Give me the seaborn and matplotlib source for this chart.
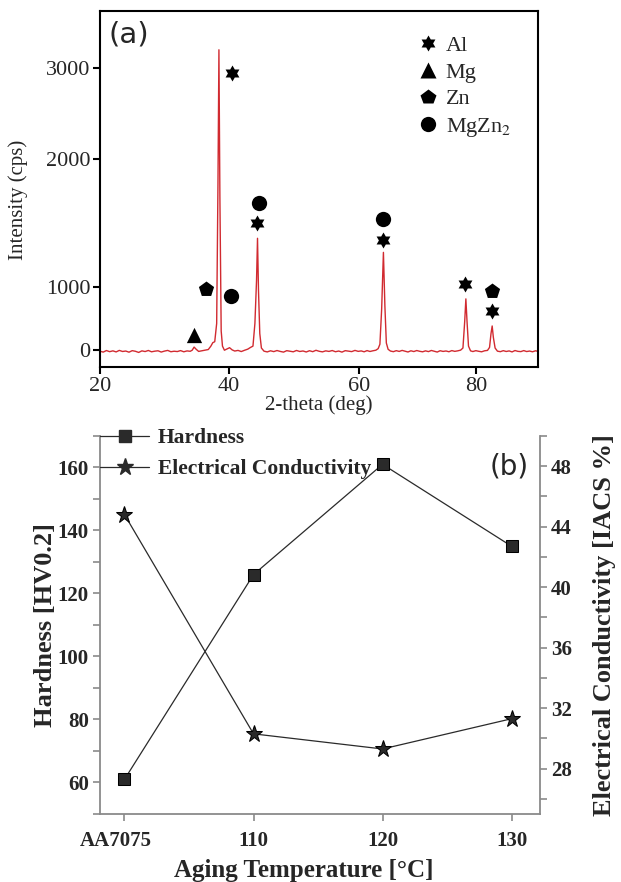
import numpy as np
import pandas as pd
import seaborn as sns
import matplotlib.pyplot as plt
from matplotlib.lines import Line2D
from matplotlib.ticker import MultipleLocator
from matplotlib.transforms import ScaledTranslation

# ---------------- panel (a): XRD pattern ----------------
two_theta = [20.0, 20.5, 21.0, 21.5, 22.0, 22.5, 23.0, 23.5, 24.0, 24.5, 25.0, 25.5,
             26.0, 26.5, 27.0, 27.5, 28.0, 28.5, 29.0, 29.5, 30.0, 30.5, 31.0, 31.5,
             32.0, 32.5, 33.0, 33.5, 34.0, 34.3, 34.6, 34.9, 35.3, 35.8, 36.3, 36.8,
             37.2, 37.5, 37.8, 38.1, 38.3, 38.45, 38.6, 38.8, 39.0, 39.3, 39.7, 40.1,
             40.5, 40.9, 41.4, 41.9, 42.4, 42.9, 43.3, 43.7, 44.0, 44.25, 44.4, 44.55,
             44.75, 45.0, 45.4, 45.9, 46.4, 46.9, 47.4, 47.9, 48.4, 48.9, 49.4, 49.9,
             50.4, 50.9, 51.4, 51.9, 52.4, 52.9, 53.4, 53.9, 54.4, 54.9, 55.4, 55.9,
             56.4, 56.9, 57.4, 57.9, 58.4, 58.9, 59.4, 59.9, 60.4, 60.9, 61.4, 61.9,
             62.4, 62.9, 63.3, 63.6, 63.9, 64.2, 64.45, 64.7, 65.0, 65.4, 65.9, 66.4,
             66.9, 67.4, 67.9, 68.4, 68.9, 69.4, 69.9, 70.4, 70.9, 71.4, 71.9, 72.4,
             72.9, 73.4, 73.9, 74.4, 74.9, 75.4, 75.9, 76.4, 76.9, 77.4, 77.8, 78.1,
             78.3, 78.5, 78.75, 79.1, 79.5, 80.0, 80.5, 81.0, 81.5, 82.0, 82.35, 82.6,
             82.8, 83.0, 83.3, 83.7, 84.2, 84.7, 85.2, 85.7, 86.2, 86.7, 87.2, 87.7,
             88.2, 88.7, 89.2, 89.7, 90.2, 90.6]
intensity = [-20, -35, -10, -28, -15, -32, -8, -25, -18, -36, -12, -22,
             -40, -15, -26, -9, -30, -20, -14, -34, -19, -8, -29, -21,
             -26, -11, -30, -16, -22, -5, 45, 12, -24, -14, -4, 6,
             60, 115, 130, 420, 1800, 3200, 1700, 300, 60, -5, 15, 35,
             0, -18, -8, -26, -6, 12, 38, 60, 420, 1050, 1380, 950,
             260, 30, -20, -32, -14, -27, -10, -24, -35, -12, -21, -30,
             -9, -25, -17, -33, -13, -28, -6, -22, -31, -15, -24, -10,
             -29, -18, -35, -12, -20, -27, -8, -23, -16, -30, -11, -25,
             -14, -5, 20, 90, 650, 1270, 700, 110, 10, -18, -28, -12,
             -24, -8, -20, -33, -14, -26, -10, -22, -30, -15, -27, -9,
             -21, -34, -13, -24, -17, -29, -11, -23, -15, -4, 30, 450,
             810, 450, 60, -15, -26, -12, -22, -30, -14, -8, 40, 260,
             380, 200, 30, -20, -28, -12, -25, -16, -32, -10, -23, -27,
             -11, -26, -18, -30, -14, -22]

phase_order = ['Al', 'Mg', 'Zn', 'MgZn$_2$']
phase_name = ['Al', 'Al', 'Al', 'Al', 'Al', 'Mg', 'Zn', 'Zn',
              'MgZn$_2$', 'MgZn$_2$', 'MgZn$_2$']
phase_theta = [40.5, 44.3, 64.1, 78.1, 82.7, 34.6, 36.4, 82.7, 44.6, 64.1, 40.3]
phase_height = [2945, 1500, 1367, 1023, 619, 238, 968, 937, 1656, 1531, 857]

theta_ticks = [20, 40, 60, 80]
intensity_ticks = [0, 1000, 2000, 3000]

# ---------------- panel (b): hardness / conductivity ----------------
aging_temp = ['AA7075', '110', '120', '130']
hardness = [61, 126, 161, 135]
conductivity = [44.8, 30.3, 29.3, 31.3]

# tick spacing of the scanned axes is uneven, so follow it with a piecewise scale
theta_tick_px = [0, 129, 259, 376]
intensity_tick_px = [0, 63, 191, 282]


def piecewise(ticks, px):
    t = np.asarray(ticks, float)
    p = np.asarray(px, float)
    s0 = (p[1] - p[0]) / (t[1] - t[0])
    s1 = (p[-1] - p[-2]) / (t[-1] - t[-2])
    big = 1e6
    tt = np.r_[t[0] - big, t, t[-1] + big]
    pp = np.r_[p[0] - big * s0, p, p[-1] + big * s1]
    return (lambda v: np.interp(v, tt, pp)), (lambda v: np.interp(v, pp, tt))


# star of David marker for Al
ang = np.deg2rad(90 + 30 * np.arange(12))
rad = np.where(np.arange(12) % 2 == 0, 1.0, 1 / np.sqrt(3))
david = np.column_stack([rad * np.cos(ang), rad * np.sin(ang)])
david = np.vstack([david, david[:1]])
phase_marker = {'Al': david, 'Mg': '^', 'Zn': 'p', 'MgZn$_2$': 'o'}
phase_size = {'Al': 11.5, 'Mg': 11, 'Zn': 11.5, 'MgZn$_2$': 11}

sns.set_style('ticks')
plt.rcParams['font.family'] = ['Liberation Serif', 'DejaVu Sans']
plt.rcParams['mathtext.fontset'] = 'stix'

fig = plt.figure(figsize=(6.21, 8.82), dpi=100)

# ---- (a)
ax_a = fig.add_axes([0.161, 0.584, 0.705, 0.4035])
xrd = pd.DataFrame({'theta': two_theta, 'cps': intensity})
sns.lineplot(data=xrd, x='theta', y='cps', estimator=None, color='#d12a30',
             lw=1.0, ax=ax_a)
marks = pd.DataFrame({'phase': phase_name, 'theta': phase_theta, 'cps': phase_height})
for ph in phase_order:
    sub = marks[marks.phase == ph]
    sns.scatterplot(data=sub, x='theta', y='cps', marker=phase_marker[ph],
                    s=phase_size[ph] ** 2, color='black', linewidth=0, ax=ax_a,
                    legend=False, zorder=3)

ax_a.set_xscale('function', functions=piecewise(theta_ticks, theta_tick_px))
ax_a.set_yscale('function', functions=piecewise(intensity_ticks, intensity_tick_px))
ax_a.set_xlim(20, 90.6)
ax_a.set_ylim(-270, 3626)
ax_a.set_xticks(theta_ticks)
ax_a.set_yticks(intensity_ticks)
ax_a.minorticks_off()
ax_a.tick_params(direction='out', length=5, width=1.5, color='black',
                 labelsize=16, pad=2)
for sp in ax_a.spines.values():
    sp.set_visible(True)
    sp.set_linewidth(1.5)
    sp.set_color('black')
ax_a.set_xlabel('2-theta (deg)', fontsize=15, labelpad=0)
ax_a.set_ylabel('Intensity (cps)', fontsize=15, labelpad=3)
ax_a.yaxis.set_label_coords(-0.165, 0.47)

handles_a = [Line2D([], [], ls='', marker=phase_marker[ph], ms=phase_size[ph],
                    color='black', mec='none') for ph in phase_order]
ax_a.legend(handles_a, phase_order, loc='upper left', bbox_to_anchor=(0.671, 0.96),
            bbox_transform=fig.transFigure, frameon=False, fontsize=16,
            handlelength=1.0, handletextpad=0.3, labelspacing=0.28,
            borderpad=0, borderaxespad=0)
fig.text(0.1755, 0.961, '(a)', family='DejaVu Sans', fontsize=21, va='center')

# ---- (b)
ax_b = fig.add_axes([0.161, 0.0771, 0.7085, 0.4286])
pos = np.arange(len(aging_temp))
df_b = pd.DataFrame({'pos': pos, 'hardness': hardness, 'ec': conductivity})
sns.lineplot(data=df_b, x='pos', y='hardness', sort=False, estimator=None,
             marker='s', markersize=8.7, markeredgecolor='black', color='#2a2a2a',
             lw=0.9, ax=ax_b)
ax_c = ax_b.twinx()
sns.lineplot(data=df_b, x='pos', y='ec', sort=False, estimator=None,
             marker='*', markersize=12.5, markeredgecolor='black', color='#2a2a2a',
             lw=0.9, ax=ax_c)

ax_b.set_xlim(-0.19, 3.22)
ax_b.set_ylim(50, 170)
ax_c.set_ylim(25, 50)
ax_b.set_xticks(pos, aging_temp)
ax_b.yaxis.set_major_locator(MultipleLocator(20))
ax_b.yaxis.set_minor_locator(MultipleLocator(10))
ax_c.yaxis.set_major_locator(MultipleLocator(4))
ax_c.yaxis.set_minor_locator(MultipleLocator(2))

grey = '#8a8a8a'
for a in (ax_b, ax_c):
    for sp in a.spines.values():
        sp.set_color(grey)
        sp.set_linewidth(1.3)
    a.spines['top'].set_visible(False)
    a.tick_params(which='both', direction='out', length=5, width=1.2, color=grey,
                  labelsize=15, pad=3)
    for lab in a.get_xticklabels() + a.get_yticklabels():
        lab.set_fontweight('bold')
ax_b.tick_params(axis='x', pad=7)
ax_b.spines['right'].set_visible(False)
for s in ('left', 'bottom'):
    ax_c.spines[s].set_visible(False)
ax_c.spines['right'].set_visible(True)
# the first category label sits a little left of its tick in the original
first = ax_b.get_xticklabels()[0]
first.set_transform(first.get_transform() + ScaledTranslation(-9 / 100, 0, fig.dpi_scale_trans))

ax_b.set_xlabel('Aging Temperature [°C]', fontsize=18, fontweight='bold', labelpad=4)
ax_b.xaxis.set_label_coords(0.464, -0.12)
ax_b.set_ylabel('Hardness [HV0.2]', fontsize=19, fontweight='bold', labelpad=0.5)
ax_c.set_ylabel('Electrical Conductivity [IACS %]', fontsize=19, fontweight='bold',
                labelpad=15)

handles_b = [Line2D([], [], color='#2a2a2a', lw=0.9, marker='s', ms=8.7),
             Line2D([], [], color='#2a2a2a', lw=0.9, marker='*', ms=12.5)]
leg = ax_c.legend(handles_b, ['Hardness', 'Electrical Conductivity'], loc='upper left',
                  bbox_to_anchor=(0.161, 0.5145), bbox_transform=fig.transFigure,
                  frameon=False, prop={'weight': 'bold', 'size': 15.5},
                  handlelength=2.3, handletextpad=0.4, labelspacing=0.5,
                  borderpad=0, borderaxespad=0)
fig.text(0.789, 1 - 467 / 882, '(b)', family='DejaVu Sans', fontsize=20, va='center')

fig.savefig('out.png', dpi=100)
